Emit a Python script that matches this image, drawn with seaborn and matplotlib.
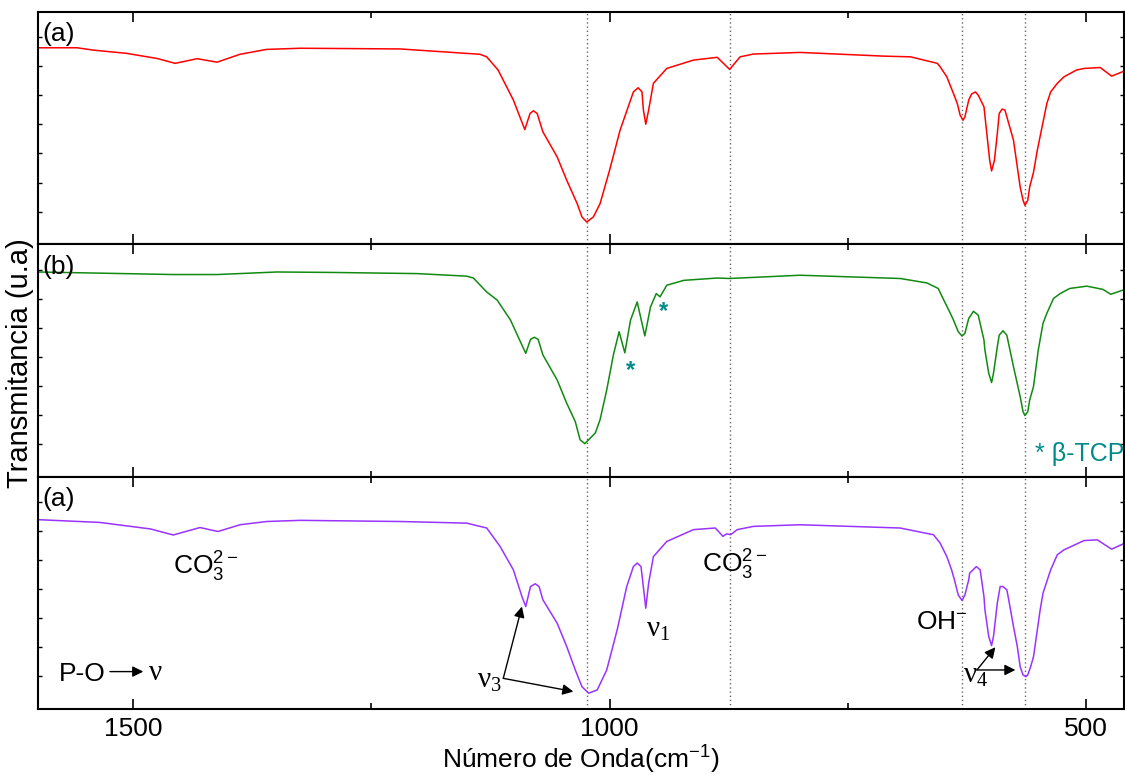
import numpy as np
import pandas as pd
import matplotlib
matplotlib.use("Agg")
import matplotlib.pyplot as plt
import seaborn as sns

# ---------------- data ----------------
red_wn = [1600, 1559, 1542, 1507, 1475, 1456, 1433, 1412, 1388, 1360, 1325, 1220, 1136, 1129,
          1117, 1101, 1089, 1083.5, 1080, 1076, 1070, 1055, 1045, 1034, 1029, 1024, 1017, 1010,
          1000, 989, 978, 975, 970, 966, 964.5, 962, 959, 954, 940, 912, 887, 874, 863, 849,
          800, 712, 684, 656, 653, 646, 639, 635, 632, 629, 627, 623, 620, 616, 613, 607,
          604, 601, 599, 596, 593, 591, 588, 585, 580, 576, 572, 569, 566, 564, 561, 559,
          555, 551, 546, 541, 537, 530, 523, 510, 502, 485, 473, 459]
red_t = [84.6, 84.6, 83.6, 82.2, 80.0, 77.9, 79.9, 78.4, 81.8, 83.9, 84.4, 84.1, 81.8, 80.7,
         75.0, 62.1, 49.4, 56.3, 57.5, 56.3, 48.4, 37.6, 27.6, 17.5, 11.8, 9.6, 11.8, 17.5,
         31.9, 49.1, 62.1, 65.6, 67.4, 65.6, 57.8, 51.7, 57.8, 69.3, 75.7, 79.3, 80.5, 75.3, 80.7, 81.9,
         82.6, 81.0, 80.7, 77.9, 76.4, 72.1, 64.9, 60.6, 55.6, 53.4, 54.9, 62.1, 64.7, 65.6, 64.2, 59.2,
         47.7, 36.2, 31.6, 36.2, 47.7, 56.3, 58.2, 57.8, 50.6, 44.8, 33.3, 24.7, 19.0, 16.8, 19.0, 24.7,
         31.0, 40.5, 50.6, 60.6, 65.6, 69.3, 72.1, 75.0, 75.7, 76.1, 72.4, 74.7]

green_wn = [1600, 1458, 1412, 1349, 1290, 1202, 1150, 1143, 1129, 1118, 1104, 1096, 1088, 1083,
            1079, 1075, 1070, 1055, 1045, 1036, 1031, 1026, 1015, 1010, 1003, 996, 990, 984,
            978, 971, 963, 957, 951, 947, 940, 922, 887, 874, 800, 695, 667, 655, 650, 643,
            639, 634, 630, 627, 623, 618, 613, 607, 606, 602, 599, 597, 593, 591, 587, 583,
            576, 569, 566, 564, 561, 559, 555, 550, 545, 541, 534, 527, 517, 499, 482, 474, 459]
green_t = [88.1, 87.0, 87.0, 88.1, 87.9, 87.4, 86.3, 85.5, 79.5, 76.0, 67.4, 60.2, 53.1, 59.1,
           60.0, 59.1, 52.4, 41.6, 31.6, 23.7, 15.9, 14.2, 18.8, 24.5, 37.3, 52.4, 62.4, 53.3,
           67.4, 75.2, 60.6, 73.1, 78.8, 77.4, 82.4, 84.5, 85.5, 85.3, 86.7, 85.3, 83.4, 81.0, 76.7, 70.9,
           67.4, 62.4, 60.5, 61.7, 68.1, 71.2, 69.5, 58.8, 54.5, 44.5, 40.5, 44.5, 55.9, 60.9, 62.8, 60.9,
           47.3, 34.5, 28.0, 26.3, 28.0, 33.0, 38.8, 54.5, 66.0, 70.3, 76.7, 78.8, 81.0, 82.0, 80.6, 78.5, 80.6]

purple_wn = [1600, 1535, 1482, 1458, 1430, 1411, 1388, 1360, 1325, 1220, 1150, 1129, 1115, 1101,
             1092, 1088, 1083, 1078, 1074, 1070, 1055, 1045, 1036, 1029, 1022, 1013, 1003, 992,
             982, 975, 971, 967, 965, 962, 959, 954, 940, 912, 889, 881, 877, 873, 866, 849,
             800, 695, 660, 653, 646, 641, 638, 634, 630, 627, 623, 622, 615, 611, 607, 606,
             602, 599, 597, 593, 590, 587, 583, 581, 576, 572, 569, 566, 563, 561, 558, 555,
             548, 545, 537, 530, 523, 502, 488, 473, 459]
purple_t = [81.5, 80.3, 77.5, 74.9, 78.1, 76.4, 79.3, 80.7, 81.2, 80.7, 80.0, 77.9, 70.0, 59.9,
            48.4, 44.1, 52.7, 53.9, 52.7, 47.0, 36.9, 26.9, 16.8, 9.6, 6.8, 8.2, 16.8, 34.1,
            52.7, 61.3, 62.8, 61.3, 54.2, 43.4, 54.2, 65.6, 72.1, 77.2, 77.9, 74.3, 75.4, 75.0, 77.2, 78.6,
            79.3, 77.9, 75.0, 71.4, 65.6, 59.9, 55.6, 49.1, 46.7, 49.1, 55.6, 58.5, 61.3, 59.9, 48.4, 42.7,
            31.2, 27.3, 31.2, 45.6, 52.7, 52.7, 51.3, 47.0, 35.5, 26.9, 18.2, 14.7, 13.9, 14.7, 18.2, 22.5,
            42.7, 49.9, 59.9, 66.4, 68.5, 72.5, 72.8, 68.8, 71.4]

ref_lines = [1024, 874, 630, 564]          # dotted reference lines (cm-1)
star_wn = [978, 943.5]                      # beta-TCP asterisks
star_t = [45.8, 71.2]
panel_labels = ["(a)", "(b)", "(a)"]
x_major = [1500, 1000, 500]
x_minor = [1250, 750]

# ---------------- style ----------------
sns.set_theme(style="ticks")
plt.rcParams["font.family"] = ["Liberation Sans", "DejaVu Sans"]
plt.rcParams["mathtext.fontset"] = "custom"
plt.rcParams["mathtext.rm"] = "Liberation Sans"
plt.rcParams["mathtext.it"] = "Liberation Sans:italic"
plt.rcParams["mathtext.bf"] = "Liberation Sans:bold"
for k in ["text.color", "axes.labelcolor", "xtick.color", "ytick.color", "axes.edgecolor"]:
    plt.rcParams[k] = "black"

W, H = 1125, 776
fig, axes = plt.subplots(3, 1, figsize=(W / 100, H / 100), dpi=100, sharex=True)
fig.subplots_adjust(left=38 / W, right=1124 / W, top=1 - 12 / H, bottom=1 - 709 / H, hspace=0)

series = [(red_wn, red_t, "#ff0000"), (green_wn, green_t, "#118a11"), (purple_wn, purple_t, "#9933ff")]
for ax, (wn, t, col), lab in zip(axes, series, panel_labels):
    df = pd.DataFrame({"wn": wn, "t": t})
    sns.lineplot(data=df, x="wn", y="t", ax=ax, color=col, lw=1.1, sort=False, estimator=None)
    for xv in ref_lines:
        ax.axvline(xv, color="#666666", lw=1.0, ls=(0, (1, 2)), zorder=0)
    ax.set_xlim(1600, 460)
    ax.set_ylim(0, 100)
    ax.set_ylabel("")
    ax.set_xlabel("")
    ax.set_yticks(np.arange(14.1, 100, 12.5))
    ax.set_yticklabels([])
    ax.set_xticks(x_major)
    ax.set_xticks(x_minor, minor=True)
    ax.tick_params(axis="y", which="both", direction="in", length=3, width=1.0, left=True, right=True)
    ax.tick_params(axis="x", which="major", direction="in", length=7, width=1.2, top=True, bottom=True,
                   labelsize=19, pad=6)
    ax.tick_params(axis="x", which="minor", direction="in", length=4, width=1.2, top=True, bottom=True)
    for s in ax.spines.values():
        s.set_linewidth(1.5)
        s.set_color("black")
        s.set_visible(True)
    ax.text(0.004, 0.955, lab, transform=ax.transAxes, ha="left", va="top", fontsize=19)

for ax in axes[:2]:
    ax.tick_params(axis="x", labelbottom=False)

# ---------------- annotations ----------------
ax1, ax2, ax3 = axes
teal = "#008b8b"
for sw, st in zip(star_wn, star_t):
    ax2.text(sw, st, "*", color=teal, fontsize=17, fontweight="bold", ha="center", va="center")
ax2.text(553, 6.6, "* \u03b2-TCP", color=teal, fontsize=18, ha="left", va="baseline")

ax3.text(1458, 57.8, "CO$_3^{2\u2212}$", fontsize=19, ha="left", va="baseline")
ax3.text(903, 58.5, "CO$_3^{2\u2212}$", fontsize=19, ha="left", va="baseline")
ax3.text(678, 34.4, "OH$^{\u2212}$", fontsize=19, ha="left", va="baseline")

serif = ["Liberation Serif", "DejaVu Serif"]
ax3.text(962, 31, r"$\mathregular{\nu_{1}}$", fontsize=21, ha="left", va="baseline", family=serif)
ax3.text(1139, 9, r"$\mathregular{\nu_{3}}$", fontsize=21, ha="left", va="baseline", family=serif)
ax3.text(628.5, 11.2, r"$\mathregular{\nu_{4}}$", fontsize=21, ha="left", va="baseline", family=serif)

arrow = dict(arrowstyle="-|>", color="black", lw=1.0, mutation_scale=16, shrinkA=0, shrinkB=0)
ax3.annotate("", xy=(1092, 44.1), xytext=(1111.6, 13.2), arrowprops=arrow)
ax3.annotate("", xy=(1038, 7.5), xytext=(1111.6, 13.2), arrowprops=arrow)
ax3.annotate("", xy=(595, 26.6), xytext=(614.4, 16.8), arrowprops=arrow)
ax3.annotate("", xy=(574, 16.8), xytext=(614.4, 16.8), arrowprops=arrow)

ax3.text(1577.7, 12.2, "P-O", fontsize=19, ha="left", va="baseline")
ax3.annotate("", xy=(1489.5, 16.1), xytext=(1524.5, 16.1), arrowprops=arrow)
ax3.text(1484, 12.5, "\u03bd", fontsize=21, ha="left", va="baseline", family=serif)

ax3.set_xlabel("Número de Onda(cm$^{-1}$)", fontsize=19, labelpad=2)
fig.text(20 / W, 1 - 363 / H, "Transmitancia (u.a)", rotation=90, ha="center", va="center", fontsize=21)

fig.savefig("out.png", dpi=100)
